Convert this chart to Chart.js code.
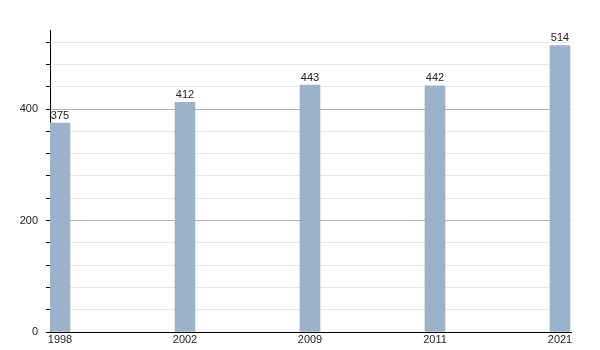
<!DOCTYPE html>
<html>
<head>
<meta charset="utf-8">
<script src="https://cdn.jsdelivr.net/npm/chart.js@4"></script>
<style>
  html, body { margin: 0; padding: 0; background: #fff; }
  #wrap { width: 600px; height: 350px; }
</style>
</head>
<body>
<div id="wrap"><canvas id="myChart" width="600" height="350"></canvas></div>
<script>
// データ
var years = ['1998', '2002', '2009', '2011', '2021'];
var values = [375, 412, 443, 442, 514];
var yTicks = [0, 40, 80, 120, 160, 200, 240, 280, 320, 360, 400, 440, 480, 520];
var yLabels = [0, 200, 400];

// 棒の上に値を表示
var valueLabels = {
  id: 'valueLabels',
  afterDatasetsDraw(chart) {
    const ctx = chart.ctx;
    const xs = chart.scales.x, ys = chart.scales.y;
    ctx.save();
    ctx.font = '11px "Liberation Sans", Arial, sans-serif';
    ctx.fillStyle = '#222';
    ctx.textAlign = 'center';
    ctx.textBaseline = 'bottom';
    for (let i = 0; i < values.length; i++) {
      ctx.fillText(String(values[i]), xs.getPixelForValue(i), ys.getPixelForValue(values[i]) - 2);
    }
    ctx.restore();
  }
};

const ctx = document.getElementById('myChart').getContext('2d');
var myChart = new Chart(ctx, {
  type: 'bar',
  data: {
    datasets: [{
      data: values.map((v, i) => ({ x: i, y: v })),
      backgroundColor: '#9ab2cc',
      borderWidth: 0,
      barThickness: 20
    }]
  },
  options: {
    responsive: false,
    animation: false,
    layout: { padding: { top: 30, right: 29, left: 0, bottom: 0 } },
    plugins: { legend: { display: false }, tooltip: { enabled: false } },
    scales: {
      x: {
        type: 'linear',
        offset: false,
        min: -0.08,
        max: 4.088,
        afterBuildTicks: s => { s.ticks = years.map((y, i) => ({ value: i })); },
        afterFit: s => { s.height = 18; },
        ticks: {
          autoSkip: false,
          maxRotation: 0,
          padding: 1,
          color: '#222',
          font: { family: '"Liberation Sans", Arial, sans-serif', size: 11 },
          callback: v => years[v]
        },
        grid: { display: false, drawTicks: false },
        border: { color: '#000', width: 1 }
      },
      y: {
        min: 0,
        max: 542,
        afterBuildTicks: s => { s.ticks = yTicks.map(v => ({ value: v })); },
        afterFit: s => { s.width = 50; },
        ticks: {
          autoSkip: false,
          padding: 8,
          color: '#222',
          font: { family: '"Liberation Sans", Arial, sans-serif', size: 11 },
          callback: v => yLabels.includes(v) ? String(v) : ''
        },
        grid: {
          color: c => (c.tick && c.tick.value % 200 === 0) ? '#b0b0b0' : '#e8e8e8',
          tickColor: '#000',
          tickLength: 4,
          lineWidth: 1
        },
        border: { color: '#000', width: 1 }
      }
    }
  },
  plugins: [valueLabels]
});
</script>
</body>
</html>
